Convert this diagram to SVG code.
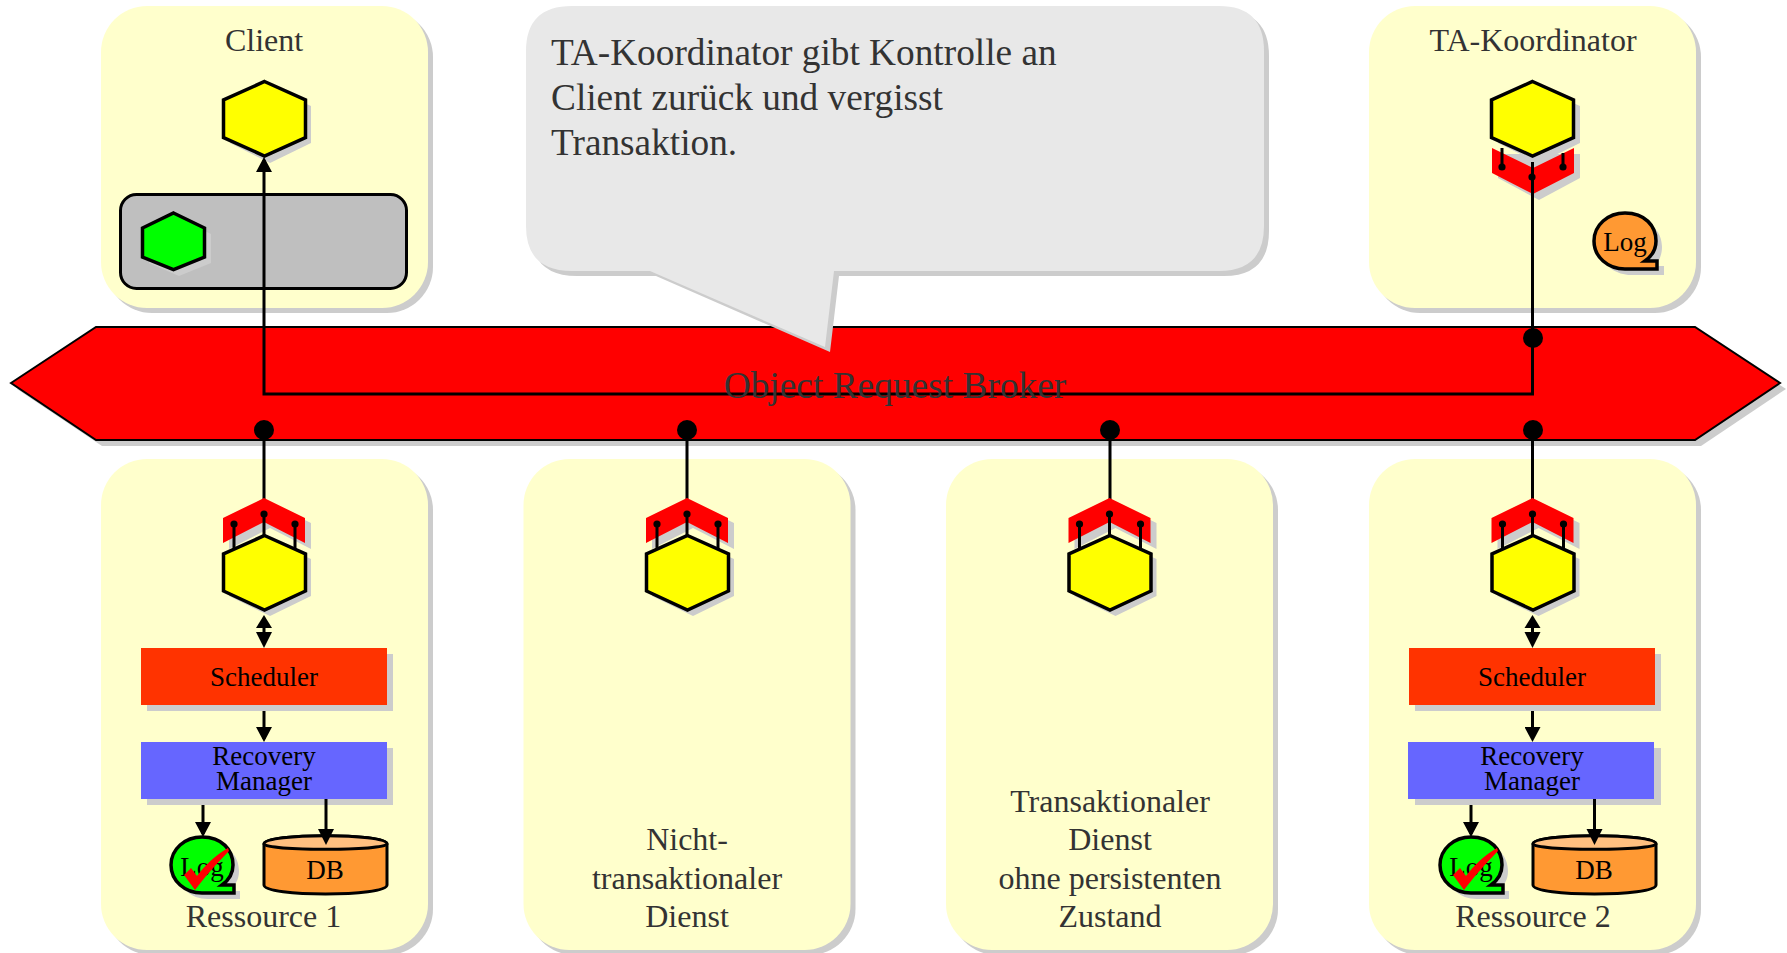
<svg xmlns="http://www.w3.org/2000/svg" width="1787" height="953" viewBox="0 0 1787 953">
<style>
text{font-family:"Liberation Serif","Times New Roman",serif;text-anchor:middle}
.lbl{font-size:32px;fill:#333}
.in{font-size:27px;fill:#000}
.sh{fill:#ccc}
.panel{fill:#ffffcc}
.ln{fill:none;stroke:#000;stroke-width:3}
.hex{fill:#ffff00;stroke:#000;stroke-width:3.5;stroke-linejoin:miter}
.chev{fill:#ff0000}
.dot{fill:#000}
.log{stroke:#000;stroke-width:3.5;stroke-linejoin:miter}
.call{font-size:37.3px;fill:#333;text-anchor:start}
</style>
<defs>
<marker id="ah" markerUnits="userSpaceOnUse" markerWidth="16" markerHeight="16" refX="12" refY="8" orient="auto-start-reverse"><path d="M0 0L15 8L0 16Z" fill="#000"/></marker>
<g id="chevd">
<path class="sh" d="M229 523L270 503L311 523V549L270 528L229 549Z"/>
<path class="chev" d="M223 518L264 498L305 518V543L264 522L223 543Z"/>
<path class="sh" d="M229 559L270 541L311 559V596L270 616L229 596Z"/>
<path class="ln" d="M234 524V549M295 524V549M264 514V536"/>
<circle class="dot" cx="234" cy="524" r="3.6"/><circle class="dot" cx="295" cy="524" r="3.6"/><circle class="dot" cx="264" cy="514" r="3.6"/>
<path class="hex" d="M264.500 535.500L305.500 554V591L264.500 610L223.500 591V554Z"/>
</g>
<path id="chk" fill="#ff0000" d="M184 875L191 868L197 876C205 865 216 855 228 848L229 851C216 864 204 878 195 890Z"/>
</defs>

<g id="panel-client"><rect class="sh" x="106" y="11" width="327" height="302" rx="46"/><rect class="panel" x="101" y="6" width="327" height="302" rx="46"/></g>
<g id="panel-ta"><rect class="sh" x="1374" y="11" width="327" height="302" rx="46"/><rect class="panel" x="1369" y="6" width="327" height="302" rx="46"/></g>
<g id="panel-r1"><rect class="sh" x="106" y="464" width="327" height="491" rx="46"/><rect class="panel" x="101" y="459" width="327" height="491" rx="46"/></g>
<g id="panel-nt"><rect class="sh" x="528.500" y="464" width="327" height="491" rx="46"/><rect class="panel" x="523.500" y="459" width="327" height="491" rx="46"/></g>
<g id="panel-t"><rect class="sh" x="951" y="464" width="327" height="491" rx="46"/><rect class="panel" x="946" y="459" width="327" height="491" rx="46"/></g>
<g id="panel-r2"><rect class="sh" x="1374" y="464" width="327" height="491" rx="46"/><rect class="panel" x="1369" y="459" width="327" height="491" rx="46"/></g>

<g id="orb">
<path class="sh" d="M17 389L102 333H1701L1786 389L1701 446H102Z"/>
<path fill="#ff0000" stroke="#000" stroke-width="2" d="M11 383L96 327H1695L1780 383L1695 440H96Z"/>
</g>

<g id="client-node">
<rect x="120.500" y="194.500" width="286" height="94" rx="16" fill="#bfbfbf" stroke="#000" stroke-width="3"/>
<path class="sh" d="M179 219L211 234V263L179 276L149 263V234Z"/>
<path class="hex" style="fill:#00ff00" d="M173.500 213L204.500 228V257L173.500 269.500L142.500 257V228Z"/>
<path class="sh" d="M270 88L311 106V143L270 163L230 143V106Z"/>
<path class="hex" d="M264.500 81.500L305.500 100V137.500L264.500 156L223.500 137.500V100Z"/>
<text class="lbl" x="264" y="51">Client</text>
</g>

<g id="ta-node">
<path class="sh" d="M1498 154L1580 154V178L1539 200L1498 178Z"/>
<path class="chev" d="M1492 148L1533 168L1574 148V173L1533 194L1492 173Z"/>
<path class="sh" d="M1539 88L1580 106V143L1539 163L1498 143V106Z"/>
<path class="ln" d="M1502 148V167M1563 153V167"/>
<circle class="dot" cx="1502" cy="167" r="3.6"/><circle class="dot" cx="1563" cy="167" r="3.6"/><circle class="dot" cx="1532" cy="177" r="3.6"/>
<path class="hex" d="M1532.500 81.500L1573.500 100V137.500L1532.500 156L1491.500 137.500V100Z"/>
<text class="lbl" x="1533" y="51">TA-Koordinator</text>
<path class="sh" d="M1631 219C1651 219 1662 232 1662 247C1662 256 1658 262 1656 266H1664V275H1631C1614 275 1600 263 1600 247C1600 231 1614 219 1631 219Z"/>
<path class="log" fill="#ff9933" d="M1625 213C1645 213 1656 226 1656 241C1656 250 1652 256 1645 261H1657V269H1625C1608 269 1594 257 1594 241C1594 225 1608 213 1625 213Z"/>
<text class="in" x="1625" y="251">Log</text>
</g>

<g id="connectors">
<path class="ln" d="M1532.500 162V394H264V160" marker-end="url(#ah)"/>
<path class="ln" d="M264 430V514M687 430V514M1110 430V514M1532.500 430V514"/>
<path class="ln" d="M264 705V739" marker-end="url(#ah)"/>
<path class="ln" d="M203 799V834" marker-end="url(#ah)"/>
<path class="ln" d="M1471 799V834" marker-end="url(#ah)"/>
<path class="ln" d="M1532.500 705V739" marker-end="url(#ah)"/>
<circle class="dot" cx="264" cy="430" r="10"/><circle class="dot" cx="687" cy="430" r="10"/><circle class="dot" cx="1110" cy="430" r="10"/><circle class="dot" cx="1533" cy="430" r="10"/><circle class="dot" cx="1533" cy="338" r="10"/>
</g>

<g id="orb-label"><text class="lbl" x="895" y="398" style="font-size:37.400px">Object Request Broker</text></g>

<g id="callout">
<path class="sh" d="M577 11H1224Q1269 11 1269 56V231Q1269 276 1224 276H839L830 352L656 276H577Q531 276 531 231V56Q531 11 577 11Z"/>
<path fill="#e8e8e8" d="M572 6H1219Q1264 6 1264 51V226Q1264 271 1219 271H834L825 347L650 271H572Q526 271 526 226V51Q526 6 572 6Z"/>
<text class="call" x="551" y="65">TA-Koordinator gibt Kontrolle an</text>
<text class="call" x="551" y="110">Client zurück und vergisst</text>
<text class="call" x="551" y="155">Transaktion.</text>
</g>

<g id="r1">
<use href="#chevd"/>
<path class="ln" d="M264 625V640"/>
<path d="M264 615L272 628H256Z"/><path d="M264 648L272 632H256Z"/>
<rect class="sh" x="147" y="654" width="246" height="57"/><rect x="141" y="648" width="246" height="57" fill="#ff3300"/>
<text class="in" x="264" y="686">Scheduler</text>
<rect class="sh" x="147" y="748" width="246" height="57"/><rect x="141" y="742" width="246" height="57" fill="#6666ff"/>
<text class="in" x="264" y="765">Recovery</text><text class="in" x="264" y="790">Manager</text>
<path class="sh" d="M208 843C228 843 239 856 239 871C239 880 235 886 228 891H240V899H208C191 899 177 887 177 871C177 855 191 843 208 843Z"/>
<path class="log" fill="#00ff00" d="M202 837C222 837 233 850 233 865C233 874 229 880 222 885H234V893H202C185 893 171 881 171 865C171 849 185 837 202 837Z"/>
<text class="in" x="202" y="876">Log</text>
<use href="#chk"/>
<g id="db1"><path fill="#ff9933" stroke="#000" stroke-width="3" d="M264 844C264 833 387 833 387 844V885C387 897 264 897 264 885Z"/><path fill="#ffc080" stroke="#000" stroke-width="3" d="M264 844C264 833 387 833 387 844C387 851 264 851 264 844Z"/><text class="in" x="325" y="879">DB</text></g>
<path class="ln" d="M326 799V835"/>
<path d="M326 845L318 829H334Z"/>
<text class="lbl" x="263.500" y="927">Ressource 1</text>
</g>

<g id="nt"><use href="#chevd" x="423"/>
<text class="lbl" x="687" y="850">Nicht-</text><text class="lbl" x="687" y="889">transaktionaler</text><text class="lbl" x="687" y="927">Dienst</text></g>

<g id="t"><use href="#chevd" x="845.500"/>
<text class="lbl" x="1110" y="812">Transaktionaler</text><text class="lbl" x="1110" y="850">Dienst</text><text class="lbl" x="1110" y="889">ohne persistenten</text><text class="lbl" x="1110" y="927">Zustand</text></g>

<g id="r2">
<use href="#chevd" x="1268.500"/>
<path class="ln" d="M1532.500 625V640"/>
<path d="M1532.500 615L1540.500 628H1524.500Z"/><path d="M1532.500 648L1540.500 632H1524.500Z"/>
<rect class="sh" x="1415" y="654" width="246" height="57"/><rect x="1409" y="648" width="246" height="57" fill="#ff3300"/>
<text class="in" x="1532" y="686">Scheduler</text>
<rect class="sh" x="1415" y="748" width="246" height="57"/><rect x="1408" y="742" width="246" height="57" fill="#6666ff"/>
<text class="in" x="1532" y="765">Recovery</text><text class="in" x="1532" y="790">Manager</text>
<path class="sh" d="M1477 843C1497 843 1508 856 1508 871C1508 880 1504 886 1497 891H1509V899H1477C1460 899 1446 887 1446 871C1446 855 1460 843 1477 843Z"/>
<path class="log" fill="#00ff00" d="M1471 837C1491 837 1502 850 1502 865C1502 874 1498 880 1491 885H1503V893H1471C1454 893 1440 881 1440 865C1440 849 1454 837 1471 837Z"/>
<text class="in" x="1471" y="876">Log</text>
<use href="#chk" x="1269"/>
<g id="db2"><path fill="#ff9933" stroke="#000" stroke-width="3" d="M1533 844C1533 833 1656 833 1656 844V885C1656 897 1533 897 1533 885Z"/><path fill="#ffc080" stroke="#000" stroke-width="3" d="M1533 844C1533 833 1656 833 1656 844C1656 851 1533 851 1533 844Z"/><text class="in" x="1594" y="879">DB</text></g>
<path class="ln" d="M1594.500 799V835"/>
<path d="M1594.500 845L1586.500 829H1602.500Z"/>
<text class="lbl" x="1533" y="927">Ressource 2</text>
</g>
</svg>
